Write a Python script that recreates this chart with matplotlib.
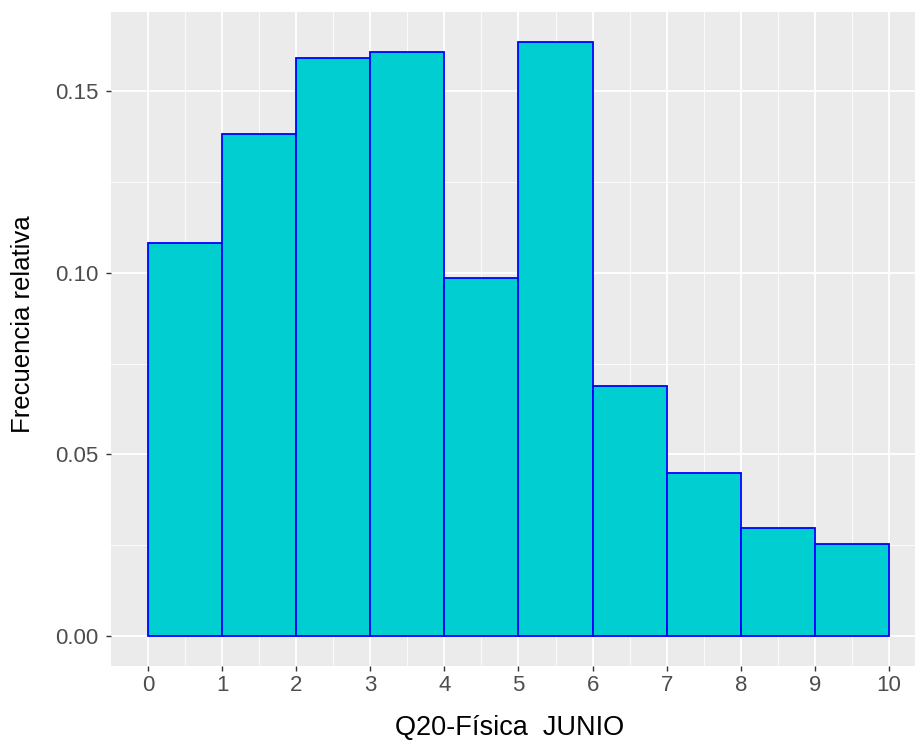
import matplotlib.pyplot as plt
import numpy as np

# Relative frequency per score bin (0-1, 1-2, ..., 9-10)
bin_edges = [0, 1, 2, 3, 4, 5, 6, 7, 8, 9, 10]
rel_freq = [0.1082, 0.1382, 0.1591, 0.1607, 0.0985, 0.1635, 0.0688, 0.0449, 0.0297, 0.0253]

plt.rcParams['font.family'] = ['Liberation Sans', 'DejaVu Sans']

fig = plt.figure(figsize=(9.15, 7.42), dpi=100)
W, H = 915, 742
left, right, top, bottom = 111, 926, 12, 666
ax = fig.add_axes([left / W, 1 - bottom / H, (right - left) / W, (bottom - top) / H])
ax.set_facecolor('#EBEBEB')

edges = np.array(bin_edges, dtype=float)
ax.bar(edges[:-1], rel_freq, width=np.diff(edges), align='edge',
       color='#00CED1', edgecolor='#0000FF', linewidth=1.3, zorder=3)

ymax = max(rel_freq)
ax.set_xlim(-0.5, 10.5)
ax.set_ylim(-0.05 * ymax, 1.05 * ymax)

ax.set_xticks(bin_edges)
ax.set_xticks(np.arange(0.5, 10, 1), minor=True)
ax.set_yticks([0.0, 0.05, 0.10, 0.15])
ax.set_yticks([0.025, 0.075, 0.125], minor=True)
ax.set_yticklabels(['0.00', '0.05', '0.10', '0.15'])

ax.grid(which='major', color='white', linewidth=1.3, zorder=0)
ax.grid(which='minor', color='white', linewidth=0.6, zorder=0)
ax.set_axisbelow(True)
for s in ax.spines.values():
    s.set_visible(False)

ax.tick_params(which='major', length=3.8, width=1, color='#333333',
               labelsize=16, labelcolor='#4D4D4D', pad=3)
ax.tick_params(axis='y', pad=5)
ax.tick_params(which='minor', length=0)

ax.set_xlabel('Q20-Física  JUNIO', fontsize=19.5, color='black', va='center')
ax.set_ylabel('Frecuencia relativa', fontsize=18.5, color='black', va='center')
ax.xaxis.set_label_coords(0.5 + (510 - (left + right) / 2) / (right - left), -(728 - bottom) / (bottom - top))
ax.yaxis.set_label_coords(-(left - 23) / (right - left), 0.5 + ((bottom + top) / 2 - 324) / (bottom - top))

fig.savefig('out.png', dpi=100)
